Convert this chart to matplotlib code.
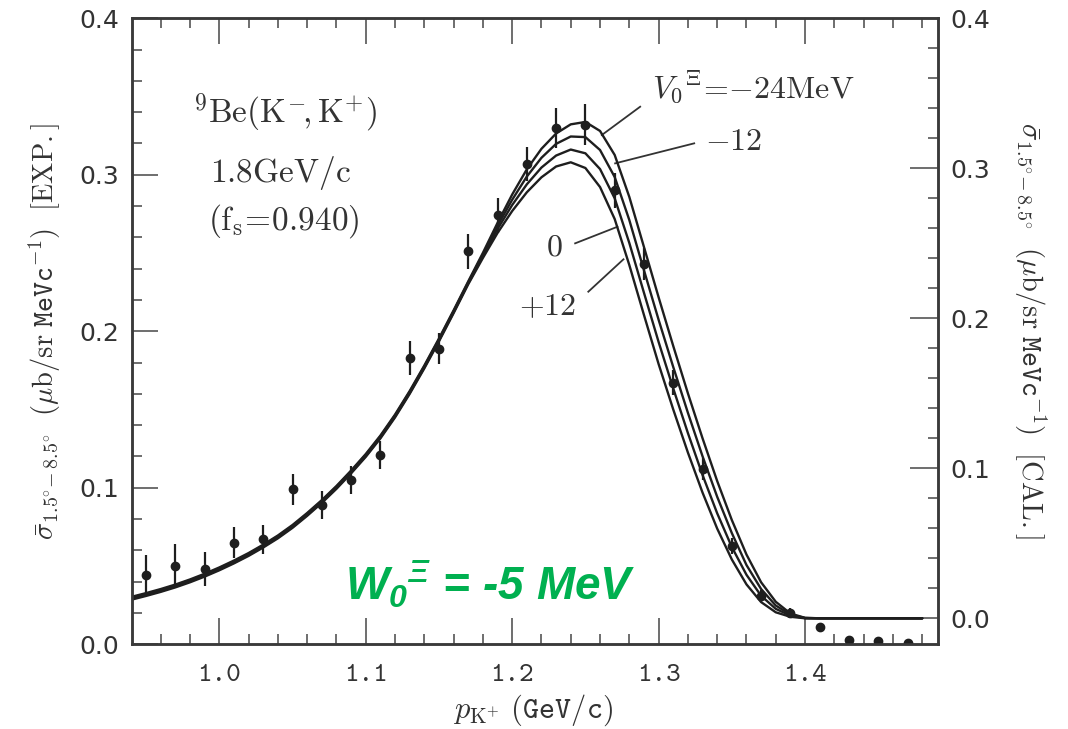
import matplotlib
matplotlib.use('Agg')
import matplotlib.pyplot as plt
from matplotlib.ticker import MultipleLocator, FormatStrFormatter

# mathtext for the green W0 label; other texts ask for Computer Modern themselves
plt.rcParams['mathtext.fontset'] = 'custom'
plt.rcParams['mathtext.rm'] = 'Liberation Sans:bold:italic'
plt.rcParams['mathtext.it'] = 'Liberation Sans:bold:italic'
plt.rcParams['mathtext.bf'] = 'Liberation Sans:bold:italic'

# ---------------------------------------------------------------------------
# calculated spectra (right-hand scale, CAL.)
# ---------------------------------------------------------------------------
p_calc = [0.94, 0.95, 0.96, 0.97, 0.98, 0.99, 1.00, 1.01, 1.02, 1.03,
          1.04, 1.05, 1.06, 1.07, 1.08, 1.09, 1.10, 1.11, 1.12, 1.13,
          1.14, 1.15, 1.16, 1.17, 1.18, 1.19, 1.20, 1.21, 1.22, 1.23,
          1.24, 1.25, 1.26, 1.27, 1.28, 1.29, 1.30, 1.31, 1.32, 1.33,
          1.34, 1.35, 1.36, 1.37, 1.38, 1.39, 1.40, 1.41, 1.48]

v0_values = ['-24', '-12', '0', '+12']

calc_v0_m24 = [0.0143, 0.0168, 0.0195, 0.0225, 0.0259, 0.0297, 0.0339, 0.0385, 0.0435, 0.0491,
               0.0552, 0.0622, 0.0702, 0.0788, 0.0882, 0.0985, 0.1095, 0.1218, 0.1358, 0.1515,
               0.1685, 0.1865, 0.2053, 0.2246, 0.2436, 0.2636, 0.2825, 0.2993, 0.3130, 0.3232,
               0.3293, 0.3309, 0.3249, 0.3089, 0.2809, 0.2475, 0.2140, 0.1815, 0.1500, 0.1200,
               0.0915, 0.0655, 0.0425, 0.0240, 0.0110, 0.0032, 0.0003, 0.0, 0.0]

calc_v0_m12 = [0.0137, 0.0162, 0.0189, 0.0219, 0.0253, 0.0291, 0.0333, 0.0379, 0.0429, 0.0485,
               0.0546, 0.0616, 0.0696, 0.0782, 0.0876, 0.0979, 0.1089, 0.1212, 0.1352, 0.1509,
               0.1679, 0.1859, 0.2047, 0.2240, 0.2425, 0.2617, 0.2790, 0.2945, 0.3070, 0.3163,
               0.3212, 0.3208, 0.3122, 0.2942, 0.2655, 0.2320, 0.1990, 0.1675, 0.1370, 0.1080,
               0.0810, 0.0568, 0.0355, 0.0195, 0.0085, 0.0025, 0.0002, 0.0, 0.0]

calc_v0_0 = [0.0130, 0.0155, 0.0182, 0.0212, 0.0246, 0.0284, 0.0326, 0.0372, 0.0422, 0.0478,
             0.0539, 0.0609, 0.0689, 0.0775, 0.0869, 0.0972, 0.1082, 0.1205, 0.1345, 0.1502,
             0.1672, 0.1852, 0.2040, 0.2233, 0.2414, 0.2595, 0.2755, 0.2893, 0.3005, 0.3085,
             0.3125, 0.3100, 0.2995, 0.2800, 0.2502, 0.2170, 0.1842, 0.1532, 0.1235, 0.0955,
             0.0700, 0.0475, 0.0290, 0.0150, 0.0063, 0.0018, 0.0001, 0.0, 0.0]

calc_v0_p12 = [0.0124, 0.0149, 0.0176, 0.0206, 0.0240, 0.0278, 0.0320, 0.0366, 0.0416, 0.0472,
               0.0533, 0.0603, 0.0683, 0.0769, 0.0863, 0.0966, 0.1076, 0.1199, 0.1339, 0.1496,
               0.1666, 0.1846, 0.2034, 0.2227, 0.2402, 0.2569, 0.2715, 0.2840, 0.2940, 0.3012,
               0.3040, 0.3002, 0.2875, 0.2662, 0.2355, 0.2022, 0.1695, 0.1392, 0.1105, 0.0838,
               0.0598, 0.0392, 0.0226, 0.0108, 0.0040, 0.0010, 0.0, 0.0, 0.0]

# ---------------------------------------------------------------------------
# measured spectrum (left-hand scale, EXP.)
# ---------------------------------------------------------------------------
p_exp = [0.95, 0.97, 0.99, 1.01, 1.03, 1.05, 1.07, 1.09, 1.11, 1.13,
         1.15, 1.17, 1.19, 1.21, 1.23, 1.25, 1.27, 1.29, 1.31, 1.33,
         1.35, 1.37, 1.39, 1.41, 1.43, 1.45, 1.47]
sigma_exp = [0.044, 0.050, 0.048, 0.065, 0.067, 0.099, 0.089, 0.105, 0.121, 0.183,
             0.189, 0.251, 0.274, 0.307, 0.330, 0.332, 0.290, 0.243, 0.167, 0.112,
             0.063, 0.031, 0.020, 0.011, 0.003, 0.002, 0.001]
sigma_err = [0.013, 0.014, 0.011, 0.010, 0.009, 0.010, 0.009, 0.009, 0.009, 0.011,
             0.010, 0.011, 0.011, 0.011, 0.013, 0.013, 0.011, 0.010, 0.008, 0.007,
             0.005, 0.004, 0.003, 0.002, 0.002, 0.002, 0.002]

INK = '#1e1e1e'
AXIS = '#3a3a3a'
TEXT = '#333333'
GREEN = '#00B050'

fig = plt.figure(figsize=(10.68, 7.29), dpi=100)
ax = fig.add_axes([0.1236, 0.1162, 0.7547, 0.8587])
ax2 = ax.twinx()

ax.set_xlim(0.9404, 1.4908)
ax.set_ylim(0.0, 0.4)
ax2.set_ylim(-0.01733, 0.4)

# calculated curves on the CAL. scale
for curve in [calc_v0_m24, calc_v0_m12, calc_v0_0, calc_v0_p12]:
    ax2.plot(p_calc, curve, color=INK, lw=1.7, solid_capstyle='round',
             solid_joinstyle='round')

# data with error bars on the EXP. scale
ax.errorbar(p_exp, sigma_exp, yerr=sigma_err, fmt='o', ms=6, color=INK,
            ecolor=INK, elinewidth=1.6, capsize=0, zorder=3)

# ticks
ax.xaxis.set_major_locator(MultipleLocator(0.1))
ax.xaxis.set_minor_locator(MultipleLocator(0.02))
ax.yaxis.set_major_locator(MultipleLocator(0.1))
ax.yaxis.set_minor_locator(MultipleLocator(0.02))
ax2.yaxis.set_major_locator(MultipleLocator(0.1))
ax2.yaxis.set_minor_locator(MultipleLocator(0.02))
ax.xaxis.set_major_formatter(FormatStrFormatter('%.1f'))
ax.yaxis.set_major_formatter(FormatStrFormatter('%.1f'))
ax2.yaxis.set_major_formatter(FormatStrFormatter('%.1f'))

ax.tick_params(axis='both', which='both', direction='in', top=True, right=False,
               color='#555555', width=1.2, labelcolor=TEXT)
ax.tick_params(which='major', length=19)
ax.tick_params(which='minor', length=7.5)
ax.tick_params(axis='y', labelsize=18, pad=9)
ax.tick_params(axis='x', labelsize=20, pad=14)
ax2.tick_params(axis='y', which='both', direction='in', color='#555555', width=1.2,
                labelcolor=TEXT, labelsize=18, pad=9)
ax2.tick_params(axis='y', which='major', length=20)
ax2.tick_params(axis='y', which='minor', length=7.5)

for lab in ax.get_xticklabels():
    lab.set_fontfamily('cmtt10')
for lab in ax.get_yticklabels() + ax2.get_yticklabels():
    lab.set_fontfamily('DejaVu Sans')

for a in (ax, ax2):
    for sp in a.spines.values():
        sp.set_color(AXIS)
        sp.set_linewidth(1.8)

# axis titles
fig.text(533 / 1068, 1 - 710 / 729, r'$p_{\mathrm{K}^{+}}\ \mathtt{(GeV/c)}$',
         fontsize=22, ha='center', va='center', color=TEXT, math_fontfamily='cm')
left_title = (r'$\bar{\sigma}_{1.5^{\circ}\!-8.5^{\circ}}\ \ (\mu\mathrm{b/sr}\ '
              r'\mathtt{MeVc}^{-1})\ \ [\mathrm{EXP.}]$')
right_title = (r'$\bar{\sigma}_{1.5^{\circ}\!-8.5^{\circ}}\ \ (\mu\mathrm{b/sr}\ '
               r'\mathtt{MeVc}^{-1})\ \ [\mathrm{CAL.}]$')
fig.text(45 / 1068, 1 - 331 / 729, left_title, rotation=90, fontsize=20.5,
         ha='center', va='center', color=TEXT, math_fontfamily='cm')
fig.text(1030 / 1068, 1 - 330 / 729, right_title, rotation=270, fontsize=20.5,
         ha='center', va='center', color=TEXT, math_fontfamily='cm')

# reaction info
ax.text(1.045, 0.3396, r'$^{9}\mathrm{Be}(\mathrm{K}^{-}\!,\mathrm{K}^{+})$', fontsize=24,
        ha='center', va='center', color=TEXT, math_fontfamily='cm')
ax.text(1.042, 0.3012, r'$\mathrm{1.8GeV/c}$', fontsize=24,
        ha='center', va='center', color=TEXT, math_fontfamily='cm')
ax.text(1.044, 0.2705, r'$(\mathrm{f_s\!=\!0.940})$', fontsize=24,
        ha='center', va='center', color=TEXT, math_fontfamily='cm')

# curve labels with leader lines
ax.text(1.2954, 0.349, r'$V_0{}^{\Xi}\!=\!{-}24\mathrm{MeV}$', fontsize=23,
        ha='left', va='baseline', color=TEXT, math_fontfamily='cm')
ax.text(1.3317, 0.321, r'$-12$', fontsize=23, ha='left', va='center',
        color=TEXT, math_fontfamily='cm')
ax.text(1.2287, 0.254, r'$0$', fontsize=23, ha='center', va='center',
        color=TEXT, math_fontfamily='cm')
ax.text(1.2239, 0.2156, r'$+12$', fontsize=23, ha='center', va='center',
        color=TEXT, math_fontfamily='cm')

leaders = [((1.2874, 1.2612), (0.3435, 0.3254)),
           ((1.3243, 1.2703), (0.3201, 0.3073)),
           ((1.2430, 1.2719), (0.2562, 0.2668)),
           ((1.2520, 1.2760), (0.2253, 0.2460))]
for xs, ys in leaders:
    ax.plot(xs, ys, color=TEXT, lw=1.3)

# imaginary potential note
ax.text(1.0859, 0.0283, r'$W_{0}{}^{\Xi}$ = -5 MeV', fontsize=33, color=GREEN,
        fontfamily='Liberation Sans', fontweight='bold', fontstyle='italic',
        ha='left', va='baseline', math_fontfamily='custom')

fig.savefig('out.png', dpi=100, facecolor='white')
